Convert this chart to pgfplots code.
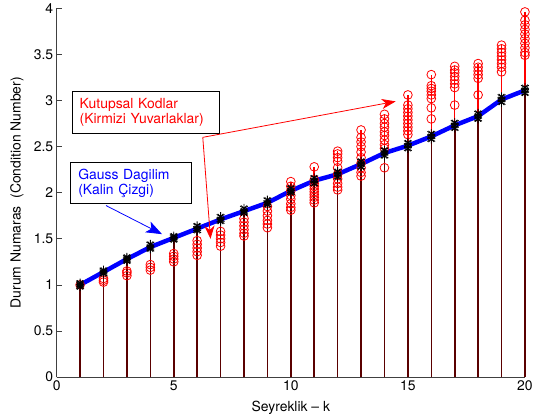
\documentclass[border=0pt]{standalone}
\usepackage{pgfplots}
\pgfplotsset{compat=1.18}
\usepackage{pgfplotstable}
\usepackage{fontspec}
\setmainfont{TeX Gyre Heros}
\usetikzlibrary{arrows.meta}
\definecolor{stemdark}{RGB}{90,0,0}

\pgfplotstableread{
k v
1 1.00
2 1.03
2 1.05
2 1.07
3 1.10
3 1.13
3 1.15
4 1.16
4 1.19
4 1.22
5 1.25
5 1.28
5 1.31
5 1.34
6 1.32
6 1.36
6 1.40
6 1.44
6 1.48
7 1.42
7 1.46
7 1.50
7 1.54
7 1.58
8 1.53
8 1.56
8 1.60
8 1.64
8 1.68
8 1.72
9 1.62
9 1.66
9 1.70
9 1.75
9 1.80
9 1.85
10 1.81
10 1.84
10 1.88
10 1.93
10 1.97
10 2.02
10 2.07
10 2.12
11 1.89
11 1.92
11 1.95
11 1.98
11 2.01
11 2.04
11 2.07
11 2.10
11 2.14
11 2.28
12 2.03
12 2.06
12 2.10
12 2.15
12 2.20
12 2.27
12 2.34
12 2.38
12 2.42
12 2.45
13 2.18
13 2.22
13 2.27
13 2.32
13 2.38
13 2.44
13 2.50
13 2.55
13 2.60
13 2.68
14 2.27
14 2.48
14 2.52
14 2.57
14 2.62
14 2.66
14 2.71
14 2.75
14 2.80
14 2.85
15 2.63
15 2.67
15 2.71
15 2.75
15 2.79
15 2.83
15 2.87
15 2.91
15 2.95
15 3.06
16 2.80
16 2.92
16 3.02
16 3.06
16 3.10
16 3.13
16 3.16
16 3.28
17 2.95
17 3.14
17 3.18
17 3.22
17 3.26
17 3.30
17 3.33
17 3.37
18 3.06
18 3.24
18 3.28
18 3.32
18 3.36
18 3.40
19 3.31
19 3.36
19 3.40
19 3.44
19 3.48
19 3.52
19 3.56
19 3.60
20 3.49
20 3.52
20 3.57
20 3.62
20 3.67
20 3.72
20 3.77
20 3.82
20 3.87
20 3.96
}\polar

\pgfplotstableread{
k g
1 1.00
2 1.14
3 1.28
4 1.41
5 1.51
6 1.61
7 1.71
8 1.80
9 1.89
10 2.02
11 2.13
12 2.20
13 2.31
14 2.43
15 2.51
16 2.61
17 2.73
18 2.83
19 3.01
20 3.11
}\gauss

\pgfplotstableread{
k g
1 0.98
1 1.00
1 1.02
2 1.12
2 1.14
2 1.16
3 1.26
3 1.28
3 1.30
4 1.39
4 1.41
4 1.44
5 1.49
5 1.51
5 1.53
6 1.59
6 1.61
6 1.64
7 1.69
7 1.71
7 1.74
8 1.78
8 1.80
8 1.83
9 1.87
9 1.89
9 1.92
10 2.00
10 2.02
10 2.05
11 2.10
11 2.13
11 2.16
12 2.17
12 2.20
12 2.23
13 2.28
13 2.31
13 2.34
14 2.40
14 2.43
14 2.46
15 2.48
15 2.51
15 2.54
16 2.58
16 2.61
16 2.64
17 2.70
17 2.73
17 2.76
18 2.80
18 2.83
18 2.86
19 2.98
19 3.01
19 3.04
20 3.08
20 3.11
20 3.14
}\gaussstar

\begin{document}
\begin{tikzpicture}
\begin{axis}[
  scale only axis,
  width=471pt, height=371pt,
  xmin=0, xmax=20, ymin=0, ymax=4,
  xtick={0,5,10,15,20},
  ytick={0,0.5,1,1.5,2,2.5,3,3.5,4},
  axis x line*=bottom, axis y line*=left,
  tick align=inside,
  major tick length=5pt,
  axis line style={black!75, line width=0.7pt},
  tick style={black!75, line width=0.6pt},
  font=\fontsize{14}{16}\selectfont,
  /pgf/number format/assume math mode=true,
  ticklabel style={font=\fontsize{14}{16}\selectfont},
  xlabel={Seyreklik -- k},
  ylabel={Durum Numaras\ \ (Condition Number)},
  xlabel style={at={(axis description cs:0.5,-0.083)}, anchor=center},
  ylabel style={at={(axis description cs:-0.085,0.5)}, anchor=center},
  clip=false,
]
\coordinate (sw) at (rel axis cs:0,0);
\coordinate (ne) at (rel axis cs:1,1);
% red stems
\addplot[ycomb, red, line width=1.5pt, no marks] table[x=k, y=v] {\polar};
% dark stems
\addplot[ycomb, stemdark, line width=1.6pt, no marks] table[x=k, y=g] {\gaussstar};
% red circles
\addplot[only marks, mark=o, mark size=4.4pt, red, line width=0.8pt] table[x=k, y=v] {\polar};
% blue line
\addplot[blue, line width=4.5pt, line join=round, no marks] table[x=k, y=g] {\gauss};
% asterisks
\addplot[only marks, mark=asterisk, mark size=4.5pt, black, line width=0.9pt] table[x=k, y=g] {\gaussstar};
\addplot[only marks, mark=x, mark size=4pt, black, line width=0.8pt] table[x=k, y=g] {\gaussstar};

% annotations
\node[draw=black, fill=white, line width=0.7pt, anchor=north west, inner xsep=7.7pt, inner ysep=0pt,
      text width=133pt, minimum height=41.6pt, align=left, text=red,
      font=\fontsize{14}{15.5}\selectfont]
  at (axis cs:0.64,3.10) {Kutupsal Kodlar\\(Kirmizi Yuvarlaklar)};
\node[draw=black, fill=white, line width=0.7pt, anchor=north west, inner xsep=7.5pt, inner ysep=0pt,
      text width=106pt, minimum height=41.3pt, align=left, text=blue,
      font=\fontsize{14}{15.5}\selectfont]
  at (axis cs:0.59,2.33) {Gauss Dagilim\\(Kalin Çizgi)};
\draw[red, line width=0.8pt, -{Stealth[length=14pt, width=10pt, inset=4pt]}]
  (axis cs:6.24,2.60) -- (axis cs:14.48,2.99);
\draw[red, line width=0.8pt, -{Stealth[length=13pt, width=10pt, inset=4pt]}]
  (axis cs:6.24,2.60) -- (axis cs:6.57,1.50);
\draw[blue, line width=0.8pt, -{Stealth[length=16pt, width=12pt, inset=4pt]}]
  (axis cs:2.11,1.86) -- (axis cs:4.50,1.55);
\end{axis}
\path ([shift={(-57pt,-42pt)}]sw) rectangle ([shift={(8pt,8pt)}]ne);
\end{tikzpicture}
\end{document}
